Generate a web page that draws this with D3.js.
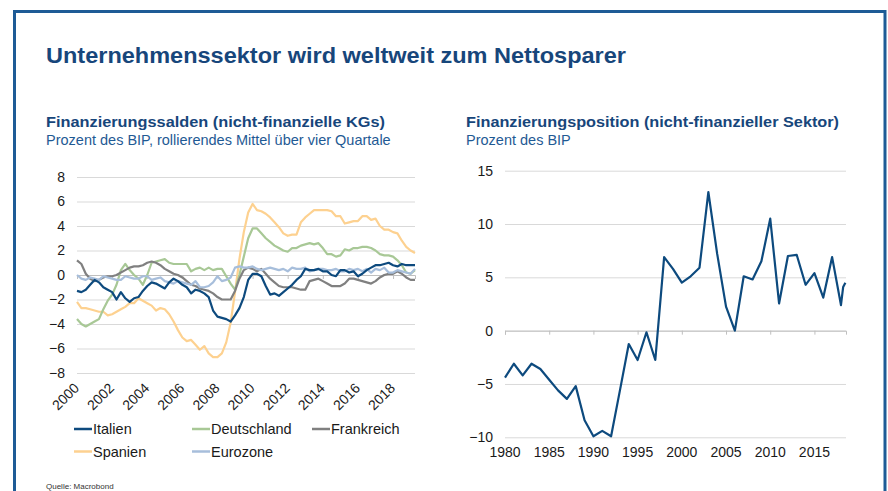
<!DOCTYPE html>
<html><head><meta charset="utf-8">
<script src="https://cdn.jsdelivr.net/npm/d3@7"></script>
<style>
body{margin:0;background:#fff;}
svg{display:block;font-family:"Liberation Sans",Arial,sans-serif;}
</style></head>
<body>
<svg id="c" width="888" height="491"></svg>
<script>
// ---------- DATA ----------
const quarterStart = 2000;             // first quarter 2000Q1, quarterly steps
const italien = [-1.3,-1.4,-1.2,-0.8,-0.4,-0.6,-1.0,-1.2,-1.4,-2.0,-1.4,-1.9,-2.2,-1.9,-1.8,-1.3,-0.9,-0.6,-0.7,-0.9,-1.1,-0.6,-0.3,-0.5,-0.8,-1.0,-1.5,-1.2,-1.3,-1.5,-1.8,-2.9,-3.4,-3.5,-3.6,-3.8,-3.3,-2.7,-1.8,-0.4,0.1,0.1,-0.1,-0.9,-1.6,-1.5,-1.7,-1.4,-1.1,-0.8,-0.4,-0.1,0.5,0.4,0.4,0.5,0.3,0.3,0.0,-0.1,0.4,0.4,0.2,0.3,-0.1,0.1,0.4,0.6,0.8,0.8,0.9,1.0,0.8,0.7,0.9,0.8,0.8,0.8];
const deutschland = [-3.6,-4.0,-4.2,-4.0,-3.8,-3.6,-2.8,-2.1,-1.6,-0.8,0.4,0.9,0.4,0.0,-0.3,-0.8,0.0,1.0,1.1,1.2,1.3,1.0,0.9,0.9,0.9,0.9,0.3,0.5,0.6,0.4,0.6,0.4,0.5,0.5,-0.1,-0.7,-1.2,0.0,1.5,3.0,3.8,3.8,3.4,3.0,2.7,2.4,2.2,2.0,1.9,2.2,2.2,2.4,2.5,2.6,2.5,2.6,2.2,1.7,1.7,1.5,1.6,2.1,2.0,2.2,2.2,2.3,2.3,2.2,2.0,1.7,1.6,1.6,1.5,1.2,0.8,0.2,0.1,0.4];
const frankreich = [1.2,0.9,0.1,-0.3,-0.5,-0.4,-0.2,-0.1,-0.1,0.0,0.2,0.4,0.6,0.7,0.7,0.8,1.0,1.1,1.0,0.8,0.5,0.3,0.1,0.0,-0.2,-0.5,-0.8,-0.9,-1.1,-1.2,-1.3,-1.5,-1.8,-2.0,-2.0,-2.0,-1.3,-0.3,0.4,0.6,0.5,0.3,0.5,0.1,-0.3,-0.6,-0.9,-1.0,-1.0,-1.0,-1.1,-1.2,-1.2,-0.5,-0.4,-0.3,-0.5,-0.7,-0.9,-0.9,-0.9,-0.7,-0.3,-0.3,-0.4,-0.5,-0.6,-0.7,-0.5,-0.2,0.0,0.1,0.1,0.3,0.1,-0.2,-0.4,-0.4];
const spanien = [-2.2,-2.7,-2.7,-2.8,-2.9,-3.0,-3.0,-3.3,-3.2,-3.0,-2.8,-2.6,-2.3,-2.3,-1.9,-2.1,-2.3,-2.5,-2.9,-2.7,-2.8,-3.2,-3.8,-4.5,-5.1,-5.4,-5.3,-5.7,-6.1,-5.8,-6.4,-6.7,-6.7,-6.4,-5.5,-3.9,-1.4,1.3,3.5,5.1,5.8,5.3,5.2,5.0,4.7,4.3,3.9,3.4,3.2,3.3,3.3,4.3,4.7,5.0,5.3,5.3,5.3,5.3,5.2,4.8,4.8,4.2,4.3,4.4,4.4,4.8,4.8,4.5,4.6,4.0,3.7,3.7,3.5,3.4,2.8,2.3,2.0,1.8];
const eurozone = [0.0,-0.3,-0.4,-0.2,-0.3,-0.4,-0.1,-0.2,-0.3,-0.4,-0.4,-0.1,-0.2,-0.3,-0.3,-0.1,-0.1,-0.4,-0.3,-0.2,-0.5,-0.6,-0.7,-0.5,-0.6,-0.7,-0.8,-0.5,-1.0,-1.0,-0.9,-0.6,-0.1,-0.5,-0.4,-0.2,0.6,0.7,0.6,0.6,0.7,0.5,0.4,0.5,0.6,0.5,0.4,0.5,0.3,0.6,0.5,0.5,0.6,0.3,0.4,0.5,0.5,0.4,0.4,0.5,0.3,0.3,0.5,0.4,0.5,0.3,0.5,0.2,0.5,0.4,0.6,0.2,0.2,0.4,0.3,0.2,0.1,0.5];
const leftYTicks = [-8,-6,-4,-2,0,2,4,6,8];
const leftXTicks = [2000,2002,2004,2006,2008,2010,2012,2014,2016,2018];

const posYears = [1980,1981,1982,1983,1984,1985,1986,1987,1988,1989,1990,1991,1992,1993,1994,1995,1996,1997,1998,1999,2000,2001,2002,2003,2004,2005,2006,2007,2008,2009,2010,2011,2012,2013,2014,2015,2016,2017,2018,2018.25,2018.5];
const posValues = [-4.4,-3.1,-4.2,-3.1,-3.6,-4.6,-5.6,-6.4,-5.2,-8.4,-9.9,-9.4,-9.9,-5.6,-1.25,-2.75,-0.15,-2.75,6.9,5.8,4.5,5.1,5.9,13.0,7.2,2.25,0.0,5.1,4.8,6.5,10.5,2.55,7.0,7.1,4.3,5.4,3.1,6.9,2.4,4.1,4.5];
const rightYTicks = [-10,-5,0,5,10,15];
const rightXTicks = [1980,1985,1990,1995,2000,2005,2010,2015];

const seriesNames = ["Italien","Deutschland","Frankreich","Spanien","Eurozone"];
const seriesColors = ["#0d4a7e","#a8c896","#808080","#fdd190","#a7bedb"];

// ---------- DRAW ----------
const svg = d3.select("#c");
const titleBlue = "#17467b";
const gridCol = "#d9d9d9";

// frame
svg.append("path").attr("d","M14.5,493 L14.5,11.5 L885,11.5 L885,493")
  .attr("fill","none").attr("stroke","#1e5b96").attr("stroke-width",3);

svg.append("text").attr("x",46).attr("y",63).attr("fill",titleBlue)
  .attr("font-size",22.5).attr("font-weight","bold")
  .attr("textLength",580).attr("lengthAdjust","spacingAndGlyphs")
  .text("Unternehmenssektor wird weltweit zum Nettosparer");

function heads(x, t1, len1, t2){
  svg.append("text").attr("x",x).attr("y",127).attr("fill",titleBlue)
    .attr("font-size",15).attr("font-weight","bold")
    .attr("textLength",len1).attr("lengthAdjust","spacingAndGlyphs").text(t1);
  svg.append("text").attr("x",x).attr("y",145).attr("fill","#1f5a94")
    .attr("font-size",14.5).text(t2);
}
heads(46,"Finanzierungssalden (nicht-finanzielle KGs)",339,"Prozent des BIP, rollierendes Mittel über vier Quartale");
heads(466,"Finanzierungsposition (nicht-finanzieller Sektor)",373,"Prozent des BIP");

// ----- left chart -----
const nQ = italien.length;
const xL = d3.scaleLinear().domain([quarterStart, quarterStart + (nQ-1)/4]).range([77,415]);
const yL = d3.scaleLinear().domain([-8,8]).range([373,177]);
const gL = svg.append("g");
gL.append("g").attr("transform","translate(77,0)")
  .call(d3.axisLeft(yL).tickValues(leftYTicks).tickSize(-338).tickFormat(d3.format("d")))
  .call(g=>{g.select(".domain").remove();
    g.selectAll("line").attr("stroke",gridCol);
    g.selectAll("text").attr("x",-12).attr("font-size",14).attr("fill","#1a1a1a").attr("font-family","Liberation Sans, Arial");});
// category axis at zero with ticks
gL.append("g").attr("transform",`translate(0,${yL(0)})`)
  .call(d3.axisBottom(xL).tickValues(leftXTicks).tickSize(4).tickFormat(""))
  .call(g=>{g.select(".domain").attr("stroke","#bfbfbf"); g.selectAll("line").attr("stroke","#bfbfbf");});
gL.selectAll(".xl").data(leftXTicks).join("text").attr("class","xl")
  .attr("transform",d=>`translate(${xL(d)+3},389) rotate(-45)`)
  .attr("text-anchor","end").attr("font-size",14).attr("fill","#1a1a1a").text(d=>d);

const leftSeries = [italien,deutschland,frankreich,spanien,eurozone];
const lineL = d3.line().x((d,i)=>xL(quarterStart+i/4)).y(d=>yL(d));
const drawOrder = [3,1,2,4,0];
drawOrder.forEach(k=>{
  gL.append("path").datum(leftSeries[k]).attr("d",lineL)
    .attr("fill","none").attr("stroke",seriesColors[k]).attr("stroke-width",2.2)
    .attr("stroke-linejoin","round");
});

// legend
const legPos = [[74,429],[192,429],[312,429],[74,451.5],[192,451.5]];
seriesNames.forEach((n,k)=>{
  const [lx,ly]=legPos[k];
  svg.append("line").attr("x1",lx).attr("x2",lx+18).attr("y1",ly).attr("y2",ly)
    .attr("stroke",seriesColors[k]).attr("stroke-width",2.5);
  svg.append("text").attr("x",lx+19).attr("y",ly+5).attr("font-size",14.5).attr("fill","#1a1a1a").text(n);
});

svg.append("text").attr("x",46).attr("y",489).attr("font-size",8).attr("fill","#333").text("Quelle: Macrobond");

// ----- right chart -----
const xR = d3.scaleLinear().domain([1980,2018.57]).range([505,846]);
const yR = d3.scaleLinear().domain([-10,15]).range([437.3,170.7]);
const gR = svg.append("g");
gR.append("g").attr("transform","translate(505,0)")
  .call(d3.axisLeft(yR).tickValues(rightYTicks).tickSize(-341).tickFormat(d3.format("d")))
  .call(g=>{g.select(".domain").remove();
    g.selectAll("line").attr("stroke",gridCol);
    g.selectAll("text").attr("x",-12).attr("font-size",14).attr("fill","#1a1a1a");});
gR.append("g").attr("transform",`translate(0,${yR(0)})`)
  .call(d3.axisBottom(xR).tickValues(rightXTicks).tickSize(4).tickFormat(""))
  .call(g=>{g.select(".domain").attr("stroke","#bfbfbf"); g.selectAll("line").attr("stroke","#bfbfbf");});
gR.selectAll(".xr").data(rightXTicks).join("text").attr("class","xr")
  .attr("x",d=>xR(d)).attr("y",457).attr("text-anchor","middle")
  .attr("font-size",14).attr("fill","#1a1a1a").text(d=>d);
gR.append("path").datum(posValues)
  .attr("d",d3.line().x((d,i)=>xR(posYears[i])).y(d=>yR(d)))
  .attr("fill","none").attr("stroke","#0d4a7e").attr("stroke-width",2.2).attr("stroke-linejoin","round");
</script>
</body></html>
